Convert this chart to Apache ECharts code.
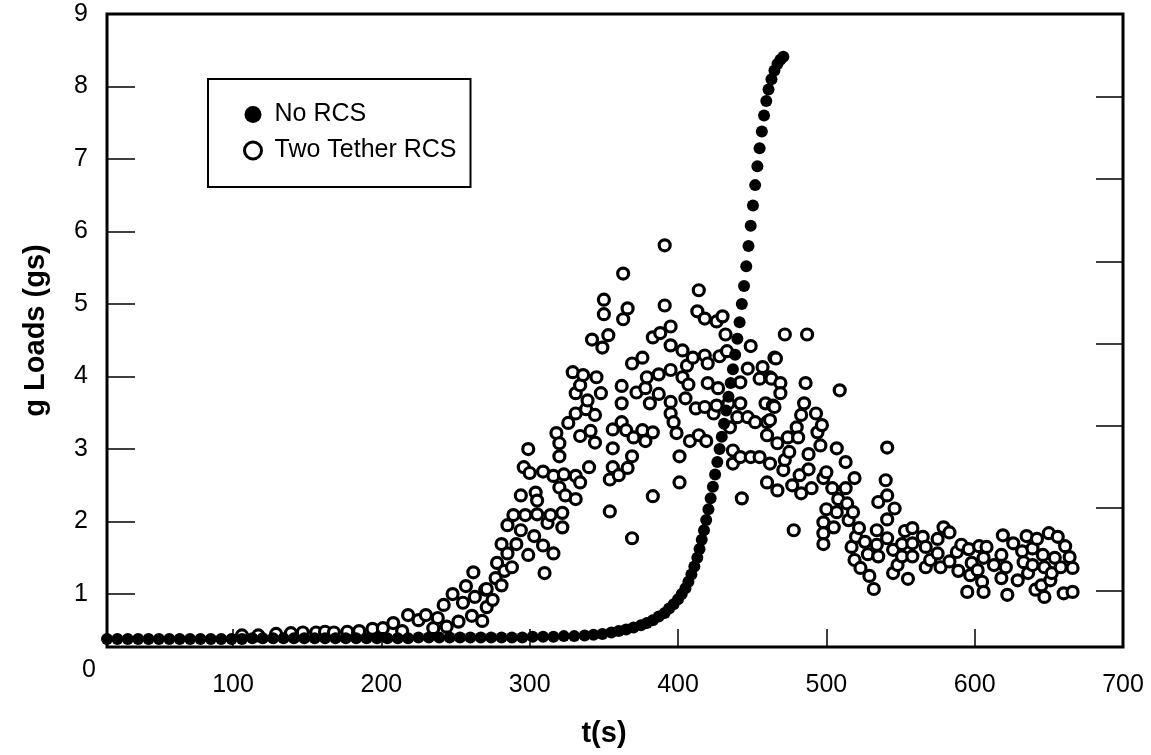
<!DOCTYPE html>
<html>
<head>
<meta charset="utf-8">
<script src="https://cdn.jsdelivr.net/npm/echarts@6/dist/echarts.min.js"></script>
<style>html,body{margin:0;padding:0;background:#fff;}#chart{width:1151px;height:755px;}</style>
</head>
<body>
<div id="chart"></div>
<script>
const seriesNames = ['No RCS', 'Two Tether RCS'];
const xTickValues = [100, 200, 300, 400, 500, 600];
const xLabelValues = [100, 200, 300, 400, 500, 600, 700];
const yTickValues = [1, 2, 3, 4, 5, 6, 7, 8];
const yLabelValues = [1, 2, 3, 4, 5, 6, 7, 8, 9];
const rightTickValues = [1, 2, 3, 4, 5, 6, 7];

const noRcsPoints = [
[15,0.38],[22,0.38],[29,0.38],[36,0.38],[43,0.38],[50,0.38],[57,0.38],[64,0.38],[71,0.38],[78,0.38],
[85,0.38],[92,0.38],[99,0.38],[106,0.38],[113,0.39],[120,0.39],[127,0.39],[134,0.39],[141,0.39],[148,0.39],
[155,0.39],[162,0.39],[169,0.39],[176,0.39],[183,0.39],[190,0.39],[197,0.39],[204,0.39],[211,0.39],[218,0.39],
[225,0.40],[232,0.40],[239,0.40],[246,0.40],[253,0.40],[260,0.40],[267,0.40],[274,0.40],[281,0.40],[288,0.40],
[295,0.40],[302,0.41],[309,0.41],[316,0.41],[323,0.42],[330,0.42],[337,0.43],[343,0.44],[349,0.45],[355,0.47],
[360,0.49],[365,0.51],[370,0.54],[375,0.57],[379,0.60],[383,0.64],[387,0.69],[391,0.74],[394,0.80],[397,0.86],
[400,0.93],[402.5,1.00],[405,1.08],[407,1.17],[409,1.27],[411,1.38],[413,1.50],[414.5,1.62],[416,1.75],[417.5,1.88],
[419,2.02],[420.5,2.17],[422,2.32],[423.5,2.48],[425,2.65],[426.5,2.82],[428,3.00],[429.5,3.17],[431,3.35],[432.5,3.53],
[434,3.72],[435.5,3.91],[437,4.10],[438.5,4.30],[440,4.52],[441.5,4.75],[443,5.00],[444.5,5.25],[446,5.52],[447.5,5.80],
[449,6.08],[450.5,6.36],[452,6.64],[453.5,6.90],[455,7.15],[456.5,7.38],[458,7.60],[459.5,7.80],[461,7.96],[463,8.10],
[465,8.22],[467,8.31],[469,8.37],[471,8.41]
];

const twoTetherPoints = [
[106,0.43],[117,0.43],[129,0.45],[139,0.46],[147,0.47],[156,0.47],[162,0.48],[168,0.47],[177,0.48],[185,0.49],
[194,0.52],[201,0.53],[208,0.60],[214,0.49],[218,0.71],[225,0.64],[230,0.71],[235,0.53],[238,0.67],[244,0.55],
[242,0.85],[248,1.00],[252,0.62],[255,0.88],[257,1.11],[262,1.30],[263,0.96],[261,0.70],[268,0.63],[270,1.06],
[271,0.82],[271,1.07],[275,0.92],[277,1.22],[278,1.43],[281,1.12],[281,1.69],[283,1.32],[285,1.56],[285,1.95],
[288,1.37],[289,2.09],[291,1.69],[294,1.88],[294,2.36],[296,2.75],[297,2.09],[299,1.54],[299,3.00],[300,2.67],
[303,1.80],[304,2.40],[305,2.10],[305,2.29],[309,1.67],[309,2.69],[310,1.29],[312,1.98],[314,2.09],[316,1.56],
[316,2.63],[318,3.22],[320,2.47],[320,3.08],[320,2.90],[322,2.12],[322,1.92],[323,2.65],[324,2.36],[326,3.36],
[329,4.06],[331,2.63],[331,2.31],[331,3.49],[331,3.77],[334,2.54],[334,3.18],[334,3.88],[336,4.02],[338,3.55],
[339,3.67],[340,2.75],[341,3.25],[342,4.51],[344,3.09],[344,3.47],[345,3.99],[348,3.77],[349,4.40],[350,4.86],
[350,5.06],[353,4.57],[354,2.14],[354,2.58],[356,2.75],[356,3.01],[356,3.27],[360,2.64],[362,3.87],[362,3.37],
[362,3.63],[363,4.79],[363,5.42],[365,3.26],[366,4.94],[366,2.74],[369,1.77],[369,2.90],[369,4.18],[370,3.16],
[372,3.78],[376,3.26],[376,4.26],[378,3.11],[378,3.84],[379,3.99],[381,3.63],[383,2.35],[383,3.23],[383,4.54],
[387,4.03],[387,3.76],[388,4.60],[391,5.81],[391,4.98],[395,4.69],[395,4.43],[395,4.09],[395,3.65],[395,3.49],
[397,3.37],[399,3.22],[401,2.54],[401,2.90],[403,4.36],[403,3.99],[405,3.70],[406,4.15],[407,3.89],[408,3.11],
[410,4.26],[412,3.56],[413,4.90],[414,5.19],[414,3.19],[418,4.80],[418,4.29],[418,3.58],[419,3.11],[420,4.18],
[420,3.91],[424,3.49],[426,4.76],[426,3.60],[427,3.84],[428,4.28],[430,4.83],[432,4.58],[433,4.35],[434,3.63],
[435,3.30],[437,2.98],[437,2.80],[440,3.44],[442,3.63],[442,3.92],[442,2.89],[443,2.32],[447,3.44],[447,4.11],
[449,4.42],[449,2.89],[452,3.37],[455,2.89],[455,3.97],[457,4.13],[459,3.63],[460,3.37],[460,3.19],[460,2.54],
[462,3.99],[462,3.40],[462,2.80],[463,3.97],[464,3.60],[465,3.58],[465,4.26],[466,4.25],[467,3.08],[467,2.43],
[469,3.91],[469,3.77],[471,2.71],[472,4.58],[472,2.85],[474,3.16],[475,2.96],[477,2.50],[478,1.88],[480,3.30],
[481,3.16],[482,2.64],[483,3.47],[483,2.39],[485,3.63],[486,3.91],[487,4.58],[488,2.93],[488,2.72],[490,2.46],
[493,3.49],[494,3.23],[496,3.05],[497,3.33],[498,2.60],[498,1.99],[498,1.84],[498,1.69],[500,2.68],[500,2.17],
[504,2.46],[505,1.92],[507,2.13],[507,3.01],[508,2.31],[509,3.81],[513,2.82],[513,2.46],[514,2.25],[515,2.02],
[517,1.65],[518,2.13],[519,2.60],[519,1.47],[520,1.79],[522,1.91],[523,1.36],[526,1.72],[528,1.55],[529,1.25],
[532,1.07],[534,1.88],[534,1.68],[535,2.27],[535,1.52],[540,2.57],[541,3.02],[541,2.36],[541,2.03],[541,1.77],
[545,1.61],[545,1.29],[546,2.18],[548,1.40],[551,1.69],[551,1.52],[553,1.87],[555,1.21],[558,1.91],[558,1.70],
[558,1.52],[565,1.79],[567,1.65],[567,1.37],[570,1.47],[575,1.76],[575,1.56],[577,1.37],[579,1.92],[583,1.85],
[583,1.45],[588,1.58],[589,1.32],[591,1.68],[595,1.03],[596,1.62],[597,1.26],[598,1.43],[602,1.33],[603,1.66],
[605,1.17],[606,1.50],[606,1.03],[608,1.65],[613,1.40],[618,1.54],[618,1.22],[619,1.81],[621,1.37],[622,0.99],
[626,1.70],[629,1.19],[632,1.59],[633,1.44],[635,1.80],[636,1.29],[639,1.63],[639,1.40],[641,1.06],[642,1.76],
[645,1.12],[646,1.54],[647,0.96],[647,1.37],[650,1.84],[651,1.19],[652,1.29],[654,1.50],[656,1.79],[658,1.37],
[660,1.01],[661,1.66],[664,1.51],[666,1.36],[666,1.03]
];

const FONT = '"Liberation Sans", Arial, Helvetica, sans-serif';
const chart = echarts.init(document.getElementById('chart'), null, {renderer: 'canvas'});
chart.setOption({
  animation: false,
  backgroundColor: '#fff',
  textStyle: {fontFamily: FONT, color: '#000'},
  grid: {left: 107, right: 28, top: 14, bottom: 108, show: true, borderColor: '#000', borderWidth: 3, backgroundColor: 'transparent'},
  legend: {
    data: [
      {name: seriesNames[0], icon: 'circle', itemStyle: {color: '#000', borderWidth: 0}},
      {name: seriesNames[1], icon: 'circle', itemStyle: {color: '#fff', borderColor: '#000', borderWidth: 3}}
    ],
    orient: 'vertical', left: 208, top: 79,
    padding: [23, 14, 24, 35],
    itemWidth: 17, itemHeight: 17, itemGap: 11,
    borderColor: '#000', borderWidth: 2, backgroundColor: '#fff',
    textStyle: {fontFamily: FONT, fontSize: 25, color: '#000', lineHeight: 25, padding: [0, 0, 0, 8]},
    selectedMode: false
  },
  xAxis: {
    type: 'value', min: 15, max: 700,
    name: 't(s)', nameLocation: 'middle', nameGap: 72,
    nameTextStyle: {fontFamily: FONT, fontSize: 29, fontWeight: 'bold', color: '#000', padding: [0, 22, 0, 0]},
    axisLine: {show: false},
    axisTick: {show: true, inside: true, length: 18, customValues: xTickValues, lineStyle: {color: '#000', width: 1.5}},
    axisLabel: {customValues: xLabelValues, fontFamily: FONT, fontSize: 25, color: '#000', margin: 26},
    splitLine: {show: false}
  },
  yAxis: [{
    type: 'value', min: 0.27, max: 9, position: 'left',
    name: 'g Loads (gs)', nameLocation: 'middle', nameGap: 57, nameRotate: 90,
    nameTextStyle: {fontFamily: FONT, fontSize: 29, fontWeight: 'bold', color: '#000'},
    axisLine: {show: false},
    axisTick: {show: true, inside: true, length: 28, customValues: yTickValues, lineStyle: {color: '#000', width: 1.5}},
    axisLabel: {customValues: yLabelValues, fontFamily: FONT, fontSize: 25, color: '#000', margin: 19},
    splitLine: {show: false}
  }, {
    type: 'value', min: 0.31, max: 8.01, position: 'right',
    axisLine: {show: false},
    axisTick: {show: true, inside: true, length: 27, customValues: rightTickValues, lineStyle: {color: '#000', width: 1.5}},
    axisLabel: {show: false},
    splitLine: {show: false}
  }],
  graphic: [{
    type: 'text', left: 82, top: 658, z: 10,
    style: {text: '0', fontFamily: FONT, fontSize: 25, fill: '#000'}
  }],
  series: [{
    name: seriesNames[1], type: 'scatter', data: twoTetherPoints,
    symbol: 'circle', symbolSize: 11, z: 2,
    itemStyle: {color: '#fff', borderColor: '#000', borderWidth: 3.2, opacity: 1},
    emphasis: {disabled: true}
  }, {
    name: seriesNames[0], type: 'scatter', data: noRcsPoints,
    symbol: 'circle', symbolSize: 12, z: 3,
    itemStyle: {color: '#000', opacity: 1},
    emphasis: {disabled: true}
  }]
});
</script>
</body>
</html>
